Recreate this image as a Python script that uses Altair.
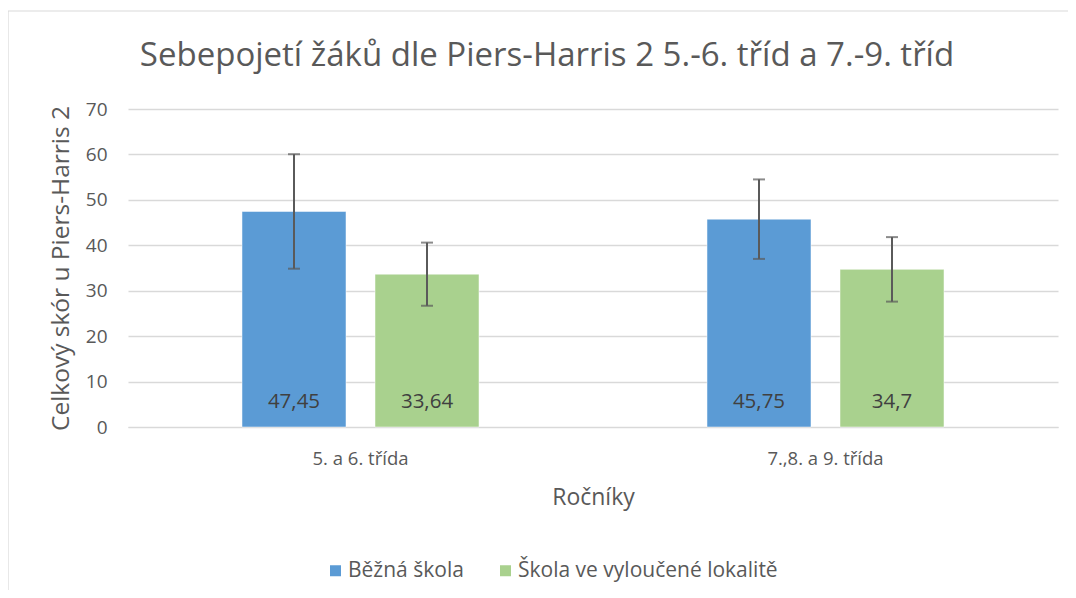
import altair as alt
import pandas as pd

groups = ["5. a 6. třída", "5. a 6. třída", "7.,8. a 9. třída", "7.,8. a 9. třída"]
schools = ["Běžná škola", "Škola ve vyloučené lokalitě", "Běžná škola", "Škola ve vyloučené lokalitě"]
means = [47.45, 33.64, 45.75, 34.70]
errors = [12.6, 6.95, 8.75, 7.1]
labels = ["47,45", "33,64", "45,75", "34,7"]

group_order = ["5. a 6. třída", "7.,8. a 9. třída"]
school_order = ["Běžná škola", "Škola ve vyloučené lokalitě"]
colors = ["#5B9BD5", "#A9D18E"]
title_text = "Sebepojetí žáků dle Piers-Harris 2 5.-6. tříd a 7.-9. tříd"

df = pd.DataFrame({"group": groups, "school": schools, "mean": means,
                   "err": errors, "label": labels})

FONT = "Open Sans"
TXT = "#595959"

W, H = 930, 318

x = alt.X("group:N", sort=group_order, scale=alt.Scale(paddingInner=0, paddingOuter=0),
          axis=alt.Axis(title="Ročníky", labelAngle=0, ticks=False, domain=True,
                        domainColor="#d9d9d9", labelFontSize=18.5, labelPadding=22,
                        titleFontSize=23, titlePadding=19, titleFontWeight="normal",
                        labelColor=TXT, titleColor=TXT, labelFont=FONT, titleFont=FONT))
xo = alt.XOffset("school:N", sort=school_order,
                 scale=alt.Scale(paddingInner=0.218, paddingOuter=0.857))

base = alt.Chart(df)

one = pd.DataFrame({"t": [title_text]})

border = alt.Chart(one).mark_rect(
    fill=None, stroke="#d9d9d9", strokeWidth=1.2
).encode(x=alt.value(-120), x2=alt.value(1100), y=alt.value(-98), y2=alt.value(620))

title = alt.Chart(one).mark_text(
    fontSize=33, font=FONT, color=TXT, baseline="alphabetic", align="center"
).encode(x=alt.value(W / 2 - 46), y=alt.value(-43), text="t:N")

bars = base.mark_bar(stroke="white", strokeWidth=0.5).encode(
    x=x, xOffset=xo,
    y=alt.Y("mean:Q", scale=alt.Scale(domain=[0, 70], nice=False),
            axis=alt.Axis(title="Celkový skór u Piers-Harris 2", values=list(range(0, 71, 10)),
                          ticks=False, domain=False, gridColor="#d9d9d9", gridWidth=1.3,
                          labelFontSize=19, labelPadding=21, labelColor=TXT,
                          titleFontSize=24.5, titleColor=TXT, titleFontWeight="normal",
                          titlePadding=12, labelFont=FONT, titleFont=FONT)),
    color=alt.Color("school:N", sort=school_order,
                    scale=alt.Scale(domain=school_order, range=colors),
                    legend=alt.Legend(title=None, orient="none", direction="horizontal",
                                      legendX=197, legendY=451, symbolType="square",
                                      symbolSize=121, symbolStrokeWidth=0,
                                      labelFontSize=21, labelColor=TXT, labelFont=FONT,
                                      labelLimit=500,
                                      columnPadding=31, symbolOffset=0, labelOffset=2))
)

errs = base.transform_calculate(
    lo="datum.mean - datum.err", hi="datum.mean + datum.err"
)

rules = errs.mark_rule(color="#5a5a5a", strokeWidth=2).encode(
    x=x, xOffset=xo, y="lo:Q", y2="hi:Q")
cap_lo = errs.mark_tick(color="#5a5a5a", thickness=2, size=12, orient="horizontal").encode(
    x=x, xOffset=xo, y="lo:Q")
cap_hi = errs.mark_tick(color="#5a5a5a", thickness=2, size=12, orient="horizontal").encode(
    x=x, xOffset=xo, y="hi:Q")

text = base.mark_text(fontSize=20.5, color="#404040", font=FONT, baseline="middle").encode(
    x=x, xOffset=xo, y=alt.value(H - 25), text="label:N")

chart = alt.layer(border, title, bars, rules, cap_lo, cap_hi, text).properties(
    width=W, height=H,
    autosize=alt.AutoSizeParams(type="none"),
    padding={"left": 120, "top": 101, "right": 10, "bottom": 163},
).configure_view(stroke=None)

chart.save("out.html", embed_options={"renderer": "svg", "actions": False})
